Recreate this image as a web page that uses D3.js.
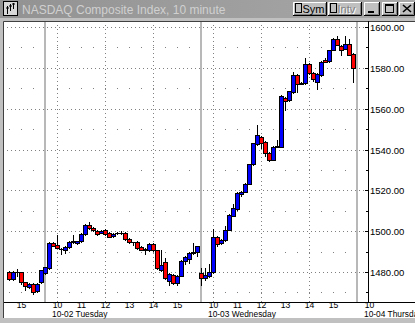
<!DOCTYPE html>
<html>
<head>
<meta charset="utf-8">
<script src="https://cdn.jsdelivr.net/npm/d3@7"></script>
<style>
html, body { margin: 0; padding: 0; background: #c0c0c0; overflow: hidden; }
svg { display: block; font-family: "Liberation Sans", Arial, sans-serif; }
</style>
</head>
<body>
<svg id="chart"></svg>
<script>
const title = "NASDAQ Composite Index, 10 minute";
const dayNames = ["10-01 Monday", "10-02 Tuesday", "10-03 Wednesday", "10-04 Thursday"];
const barsPerDay = 39; // 9:30 .. 15:50, 10 minute bars

// [open, high, low, close]
const oct01Start = 30; // first visible bar is 14:30
const oct01 = [
  [1480.0, 1480.4, 1476.3, 1476.6], [1476.6, 1480.3, 1476.3, 1480.0], [1480.0, 1481.5, 1478.0, 1480.2],
  [1480.0, 1480.2, 1474.1, 1475.0], [1475.1, 1475.3, 1471.3, 1473.0], [1472.6, 1474.4, 1472.3, 1474.1],
  [1474.1, 1474.4, 1469.2, 1470.0], [1470.5, 1474.4, 1470.2, 1474.1], [1475.1, 1481.0, 1474.8, 1480.8]
];
const oct02 = [
  [1479.5, 1482.6, 1479.2, 1482.3], [1482.0, 1494.6, 1481.7, 1494.3], [1494.3, 1494.6, 1492.5, 1492.8],
  [1493.0, 1498.3, 1491.6, 1491.9], [1491.5, 1492.0, 1489.0, 1491.5], [1491.0, 1492.6, 1489.3, 1492.3],
  [1492.3, 1495.0, 1492.0, 1494.7], [1494.7, 1498.0, 1494.2, 1495.2], [1494.2, 1495.3, 1493.9, 1495.0],
  [1495.0, 1498.9, 1494.7, 1498.6], [1498.6, 1503.5, 1498.3, 1503.2], [1503.2, 1504.5, 1501.0, 1501.5],
  [1501.5, 1501.8, 1500.3, 1500.6], [1500.2, 1500.8, 1498.1, 1498.4], [1499.2, 1500.5, 1498.9, 1500.2],
  [1500.4, 1501.0, 1498.3, 1498.6], [1499.1, 1499.4, 1496.9, 1497.2], [1497.5, 1498.9, 1497.2, 1498.6],
  [1499.0, 1499.5, 1498.5, 1499.0], [1499.0, 1500.2, 1498.7, 1499.1], [1499.1, 1499.4, 1495.9, 1496.2],
  [1496.2, 1496.5, 1494.4, 1494.7], [1494.6, 1494.9, 1493.3, 1494.6], [1494.7, 1495.0, 1491.5, 1491.8],
  [1492.3, 1492.6, 1490.6, 1490.9], [1490.6, 1491.6, 1489.0, 1491.3], [1490.6, 1494.0, 1490.3, 1493.7],
  [1493.7, 1494.0, 1490.3, 1490.6], [1490.6, 1490.9, 1481.7, 1482.0], [1481.1, 1491.0, 1480.5, 1483.2],
  [1484.7, 1486.9, 1476.8, 1477.1], [1475.7, 1479.5, 1473.8, 1479.2], [1478.7, 1479.0, 1474.0, 1474.6],
  [1474.6, 1478.5, 1473.5, 1478.2], [1478.2, 1485.8, 1477.9, 1485.5], [1485.2, 1487.7, 1483.9, 1487.4],
  [1486.4, 1489.6, 1484.5, 1489.3], [1489.3, 1494.2, 1489.0, 1490.0], [1489.8, 1492.8, 1487.6, 1492.5]
];
const oct03 = [
  [1479.5, 1482.0, 1473.8, 1477.1], [1477.1, 1482.0, 1476.0, 1478.7], [1477.9, 1484.0, 1477.6, 1479.8],
  [1479.8, 1501.2, 1479.5, 1497.1], [1497.1, 1497.4, 1492.5, 1493.7], [1494.2, 1496.1, 1493.9, 1495.8],
  [1495.5, 1502.7, 1495.2, 1500.7], [1500.7, 1508.3, 1500.4, 1508.0], [1507.6, 1513.1, 1507.3, 1511.2],
  [1510.9, 1519.0, 1510.6, 1518.7], [1518.1, 1519.7, 1517.0, 1519.4], [1519.4, 1523.6, 1519.1, 1523.3],
  [1523.3, 1533.0, 1523.0, 1532.7], [1532.7, 1543.3, 1532.4, 1543.0], [1542.5, 1552.2, 1542.2, 1546.9],
  [1546.3, 1546.6, 1540.8, 1543.2], [1543.7, 1544.0, 1537.0, 1538.3], [1538.3, 1538.6, 1534.2, 1535.0],
  [1535.0, 1541.6, 1534.7, 1541.3], [1541.3, 1544.5, 1541.0, 1541.5], [1541.3, 1566.9, 1541.0, 1566.1],
  [1565.3, 1565.6, 1559.4, 1563.6], [1564.1, 1568.8, 1563.8, 1568.5], [1568.2, 1577.8, 1567.9, 1576.7],
  [1576.7, 1577.0, 1568.0, 1572.3], [1572.3, 1573.1, 1572.0, 1572.8], [1572.6, 1584.9, 1572.3, 1582.1],
  [1582.1, 1582.4, 1577.2, 1577.5], [1577.5, 1577.8, 1573.4, 1574.6], [1573.1, 1577.4, 1569.7, 1577.1],
  [1576.4, 1583.2, 1576.1, 1582.9], [1584.0, 1584.9, 1582.7, 1583.0], [1583.2, 1588.9, 1582.9, 1588.6],
  [1588.9, 1594.7, 1588.6, 1593.9], [1593.9, 1595.5, 1591.1, 1591.4], [1590.9, 1591.2, 1586.5, 1588.6],
  [1589.3, 1595.5, 1589.0, 1591.8], [1591.8, 1594.2, 1586.2, 1586.5], [1587.0, 1587.3, 1572.9, 1580.0]
];

const priceTicks = [1480, 1500, 1520, 1540, 1560, 1580, 1600];
const priceMinor = [1470, 1490, 1510, 1530, 1550, 1570, 1590];
// hour labels shown on the time axis: [day, hour]
const hourLabels = [[0, 15], [1, 10], [1, 11], [1, 12], [1, 13], [1, 14], [1, 15],
  [2, 10], [2, 11], [2, 12], [2, 13], [2, 14], [2, 15], [3, 10]];
const gridHours = [10, 12, 14];

const W = 415, H = 323;
const plotL = 4, plotT = 22, axisX = 368, axisY = 302, frameB = 318;

const svg = d3.select("#chart").attr("width", W).attr("height", H);
const defs = svg.append("defs");

const slotOf = (day, hour, min) => day * barsPerDay + ((hour * 60 + (min || 0)) - 570) / 10;

const x = d3.scaleLinear()
  .domain([0, 3 * barsPerDay])
  .range([45 - 4 * barsPerDay, 45 + 8 * barsPerDay]);
const y = d3.scaleLinear()
  .domain([1480, 1600])
  .range([272, 27])
  .interpolate(d3.interpolateRound);

// dot patterns for the grid (crisp single pixels)
function dotPattern(id, w, h, px, py) {
  const p = defs.append("pattern").attr("id", id).attr("patternUnits", "userSpaceOnUse")
    .attr("x", px).attr("y", py).attr("width", w).attr("height", h);
  p.append("rect").attr("width", 1).attr("height", 1).attr("fill", "#808080");
}
dotPattern("hdot", 4, 1, 3, 0);
dotPattern("hdotSparse", 12, 1, 9, 0);
dotPattern("vdot", 1, 4, 0, 1);

// window frame + title bar
svg.append("rect").attr("width", W).attr("height", H).attr("fill", "#c0c0c0");
const grad = defs.append("linearGradient").attr("id", "cap");
grad.append("stop").attr("offset", 0).attr("stop-color", "#929292");
grad.append("stop").attr("offset", 1).attr("stop-color", "#a8a8a8");
svg.append("rect").attr("width", W).attr("height", 18).attr("fill", "url(#cap)");

// icon
const icon = svg.append("g");
icon.append("rect").attr("x", 3.5).attr("y", 1.5).attr("width", 14).attr("height", 14)
  .attr("fill", "#d8d8d8").attr("stroke", "#000");
icon.append("path").attr("d", "M7.5,6V14M10.5,4V11M13.5,3V9M6,8H9M9,6H12M12,4H15")
  .attr("stroke", "#000").attr("fill", "none");

svg.append("text").attr("x", 22).attr("y", 13.5)
  .attr("font-size", 12).attr("fill", "#d0d0d0").text(title);

function button(bx, by, bw, bh) {
  const b = svg.append("g");
  b.append("rect").attr("x", bx).attr("y", by).attr("width", bw).attr("height", bh).attr("fill", "#c0c0c0");
  b.append("path").attr("d", `M${bx + .5},${by + bh - 1}V${by + .5}H${bx + bw - 1}`)
    .attr("stroke", "#fff").attr("fill", "none");
  b.append("path").attr("d", `M${bx},${by + bh - .5}H${bx + bw - .5}V${by}`)
    .attr("stroke", "#000").attr("fill", "none");
  b.append("path").attr("d", `M${bx + 1},${by + bh - 1.5}H${bx + bw - 1.5}V${by + 1}`)
    .attr("stroke", "#808080").attr("fill", "none");
  return b;
}

const sym = button(293, 2, 34, 14);
sym.append("rect").attr("x", 295.5).attr("y", 3.5).attr("width", 6).attr("height", 9)
  .attr("fill", "#c0c0c0").attr("stroke", "#000");
sym.append("text").attr("x", 302.5).attr("y", 13).attr("font-size", 11).attr("fill", "#000").text("Sym");

const intv = button(328, 2, 34, 14);
intv.append("rect").attr("x", 330.5).attr("y", 3.5).attr("width", 6).attr("height", 9)
  .attr("fill", "#c0c0c0").attr("stroke", "#000");
intv.append("text").attr("x", 338.5).attr("y", 14).attr("font-size", 11).attr("fill", "#fff").text("Intv");
intv.append("text").attr("x", 337.5).attr("y", 13).attr("font-size", 11).attr("fill", "#808080").text("Intv");

const bMin = button(364, 2, 16, 14);
bMin.append("rect").attr("x", 368).attr("y", 11).attr("width", 6).attr("height", 2).attr("fill", "#000");
const bMax = button(382, 2, 16, 14);
bMax.append("rect").attr("x", 385.5).attr("y", 4.5).attr("width", 8).attr("height", 8)
  .attr("fill", "none").attr("stroke", "#000");
bMax.append("line").attr("x1", 385).attr("x2", 394).attr("y1", 5.5).attr("y2", 5.5).attr("stroke", "#000");
const bClose = button(399, 2, 16, 14);
bClose.append("path").attr("d", "M403,5L411,12M411,5L403,12")
  .attr("stroke", "#000").attr("stroke-width", 1.6).attr("fill", "none");

// plot background
svg.append("rect").attr("x", plotL).attr("y", plotT).attr("width", W - plotL).attr("height", frameB - plotT)
  .attr("fill", "#fff");
svg.append("path").attr("d", `M3.5,${frameB}V21.5H${W}`).attr("stroke", "#404040").attr("fill", "none");

svg.append("clipPath").attr("id", "clip").append("rect")
  .attr("x", plotL).attr("y", plotT).attr("width", axisX - plotL).attr("height", axisY - plotT);
const plot = svg.append("g").attr("clip-path", "url(#clip)");

// grid
plot.selectAll("rect.major").data(priceTicks).join("rect").attr("class", "major")
  .attr("x", plotL).attr("width", axisX - plotL).attr("y", d => y(d)).attr("height", 1)
  .attr("fill", "url(#hdot)");
plot.selectAll("rect.minor").data(priceMinor).join("rect").attr("class", "minor")
  .attr("x", plotL).attr("width", axisX - plotL).attr("y", d => y(d)).attr("height", 1)
  .attr("fill", "url(#hdotSparse)");

const gridSlots = [];
[0, 1, 2].forEach(d => gridHours.forEach(h => gridSlots.push(slotOf(d, h))));
plot.selectAll("rect.vgrid").data(gridSlots).join("rect").attr("class", "vgrid")
  .attr("x", d => x(d)).attr("width", 1).attr("y", plotT).attr("height", axisY - plotT)
  .attr("fill", "url(#vdot)");

plot.selectAll("line.sep").data([1, 2, 3]).join("line").attr("class", "sep")
  .attr("x1", d => x(d * barsPerDay)).attr("x2", d => x(d * barsPerDay))
  .attr("y1", plotT).attr("y2", axisY)
  .attr("stroke", "#b8b8b8").attr("stroke-width", 2);

// candles
const bars = [];
[[0, oct01Start, oct01], [1, 0, oct02], [2, 0, oct03]].forEach(([day, start, arr]) => {
  arr.forEach((b, i) => bars.push({ slot: day * barsPerDay + start + i, o: b[0], h: b[1], l: b[2], c: b[3] }));
});

const candle = plot.selectAll("g.bar").data(bars).join("g").attr("class", "bar");
candle.append("line")
  .attr("x1", d => x(d.slot) + .5).attr("x2", d => x(d.slot) + .5)
  .attr("y1", d => y(d.h)).attr("y2", d => y(d.l) + 1)
  .attr("stroke", "#000");
candle.filter(d => y(Math.min(d.o, d.c)) - y(Math.max(d.o, d.c)) >= 1)
  .append("rect")
  .attr("x", d => x(d.slot) - 1.5).attr("width", 4)
  .attr("y", d => y(Math.max(d.o, d.c)) + .5)
  .attr("height", d => y(Math.min(d.o, d.c)) - y(Math.max(d.o, d.c)))
  .attr("fill", d => d.c >= d.o ? "#0000ff" : "#ff0000")
  .attr("stroke", "#000");
candle.filter(d => y(Math.min(d.o, d.c)) - y(Math.max(d.o, d.c)) < 1)
  .append("line")
  .attr("x1", d => x(d.slot) - 2).attr("x2", d => x(d.slot) + 3)
  .attr("y1", d => y(d.c) + .5).attr("y2", d => y(d.c) + .5)
  .attr("stroke", "#000");

// axes
svg.append("line").attr("x1", axisX + .5).attr("x2", axisX + .5).attr("y1", 21).attr("y2", axisY)
  .attr("stroke", "#000");
svg.append("line").attr("x1", plotL).attr("x2", W).attr("y1", axisY + .5).attr("y2", axisY + .5)
  .attr("stroke", "#000");

svg.append("g").attr("transform", `translate(${axisX},0)`)
  .call(d3.axisRight(y).tickValues(priceMinor).tickSizeInner(-2).tickSizeOuter(0).tickFormat(""))
  .call(g => g.select(".domain").remove());
svg.append("g").attr("transform", `translate(${axisX},0)`)
  .call(d3.axisRight(y).tickValues(priceTicks).tickSizeInner(-3).tickSizeOuter(0)
    .tickPadding(2).tickFormat(d3.format(".2f")))
  .call(g => g.select(".domain").remove())
  .call(g => g.selectAll("text").attr("font-size", 9.5).attr("font-family", null).attr("fill", "#000"))
  .call(g => g.selectAll("line").attr("stroke", "#000"));

const hourSlots = hourLabels.map(([d, h]) => slotOf(d, h));
svg.append("g").attr("transform", `translate(0,${axisY})`)
  .call(d3.axisBottom(x).tickValues(hourSlots).tickSize(0).tickPadding(0)
    .tickFormat(s => (570 + (s % barsPerDay) * 10) / 60))
  .call(g => g.select(".domain").remove())
  .call(g => g.selectAll("text").attr("font-size", 8.6).attr("font-family", null).attr("fill", "#000"));

svg.selectAll("text.date").data([1, 2, 3]).join("text").attr("class", "date")
  .attr("x", d => x(slotOf(d, 10)) - 5).attr("y", 317.3)
  .attr("font-size", 8.4).attr("fill", "#000")
  .text(d => dayNames[d]);

// bottom frame
svg.append("rect").attr("x", 0).attr("y", frameB + 0.5).attr("width", W).attr("height", H - frameB).attr("fill", "#c0c0c0");
</script>
</body>
</html>
